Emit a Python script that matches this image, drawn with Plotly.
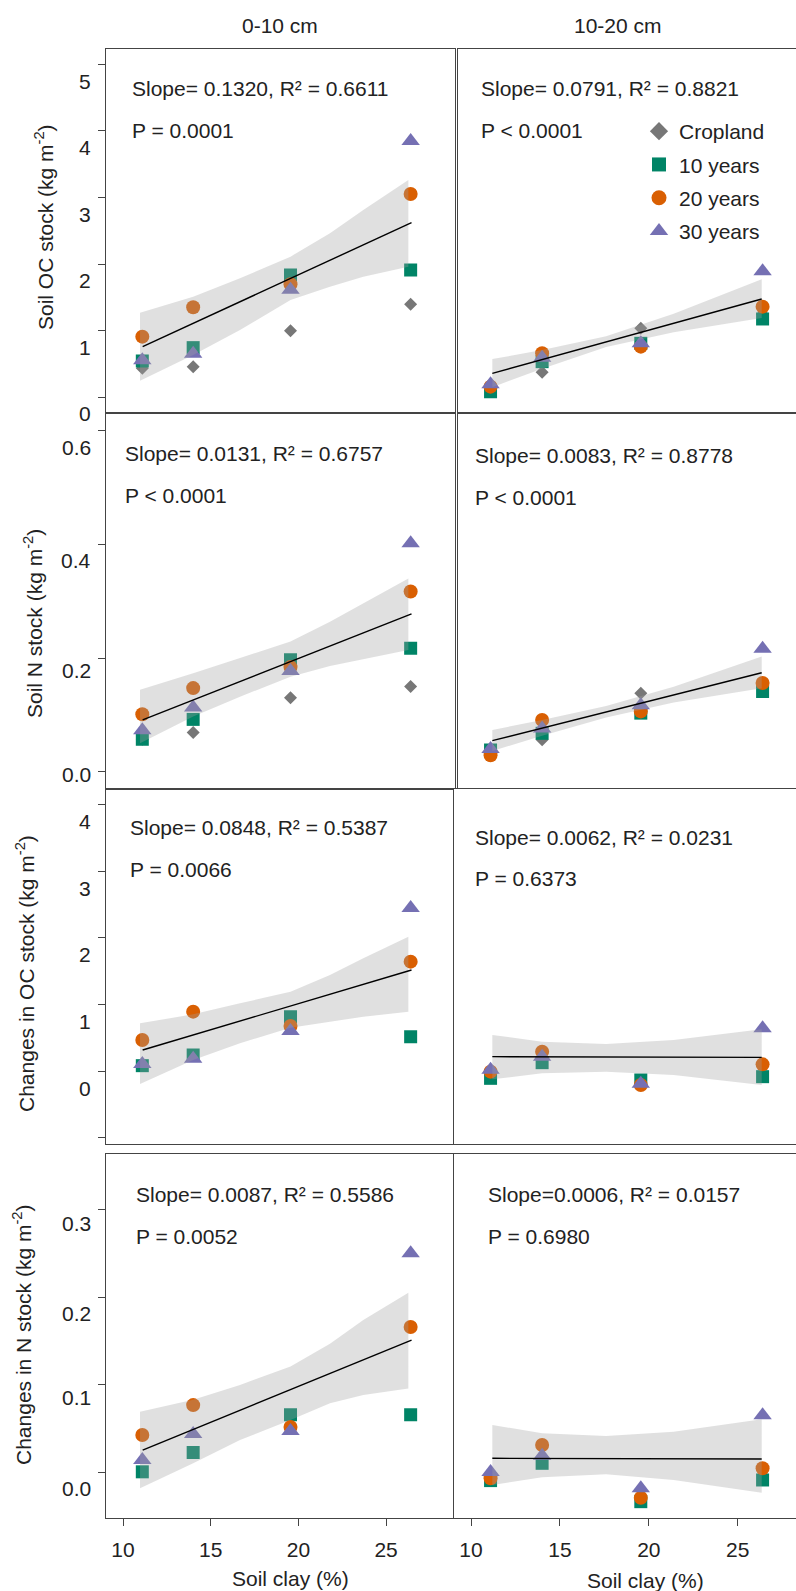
import plotly.graph_objects as go

# ---------------- data ----------------
clay = [11.1, 14.0, 19.55, 26.4]
series_names = ["Cropland", "10 years", "20 years", "30 years"]
series_colors = ["#777777", "#008466", "#d95f02", "#7570b3"]
series_symbols = ["diamond", "square", "circle", "triangle-up"]

# Row 1 : Soil OC stock (kg m-2)
oc_0_10_cropland = [0.44, 0.465, 1.005, 1.40]
oc_0_10_10y = [0.55, 0.75, 1.84, 1.915]
oc_0_10_20y = [0.915, 1.355, 1.70, 3.055]
oc_0_10_30y = [0.56, 0.66, 1.62, 3.85]
oc_10_20_cropland = [0.12, 0.38, 1.04, 1.25]
oc_10_20_10y = [0.09, 0.54, 0.815, 1.18]
oc_10_20_20y = [0.165, 0.665, 0.765, 1.365]
oc_10_20_30y = [0.20, 0.60, 0.815, 1.895]

# Row 2 : Soil N stock (kg m-2)
n_0_10_cropland = [0.057, 0.069, 0.130, 0.150]
n_0_10_10y = [0.057, 0.092, 0.197, 0.217]
n_0_10_20y = [0.101, 0.147, 0.184, 0.317]
n_0_10_30y = [0.073, 0.113, 0.177, 0.402]
n_10_20_cropland = [0.035, 0.056, 0.138, 0.148]
n_10_20_10y = [0.038, 0.0675, 0.103, 0.141]
n_10_20_20y = [0.029, 0.091, 0.106, 0.156]
n_10_20_30y = [0.040, 0.076, 0.117, 0.2165]

# Row 3 : Changes in OC stock (kg m-2)
doc_0_10_10y = [0.08, 0.24, 0.815, 0.515]
doc_0_10_20y = [0.465, 0.89, 0.675, 1.64]
doc_0_10_30y = [0.105, 0.185, 0.60, 2.445]
doc_10_20_10y = [-0.11, 0.125, -0.135, -0.085]
doc_10_20_20y = [-0.01, 0.29, -0.21, 0.10]
doc_10_20_30y = [0.02, 0.215, -0.19, 0.64]

# Row 4 : Changes in N stock (kg m-2)
dn_0_10_10y = [0.001, 0.023, 0.066, 0.066]
dn_0_10_20y = [0.043, 0.077, 0.052, 0.166]
dn_0_10_30y = [0.0145, 0.044, 0.0475, 0.250]
dn_10_20_10y = [-0.009, 0.0107, -0.033, -0.0083]
dn_10_20_20y = [-0.0064, 0.0315, -0.0285, 0.005]
dn_10_20_30y = [0.0008, 0.0194, -0.0178, 0.0653]

# fitted regression lines (end points) and confidence bands
fit_x_left = [11.12, 26.45]
fit_x_right = [11.2, 26.35]
band_x_left = [10.97, 14.0, 16.67, 19.55, 21.8, 23.7, 26.27]
band_x_right = [11.2, 14.0, 17.6, 21.4, 26.35]

fit_oc_0_10 = [0.765, 2.625]
band_oc_0_10_lo = [0.255, 0.64, 1.015, 1.465, 1.665, 1.815, 1.965]
band_oc_0_10_hi = [1.275, 1.515, 1.79, 2.115, 2.465, 2.815, 3.265]
fit_oc_10_20 = [0.365, 1.48]
band_oc_10_20_lo = [0.158, 0.433, 0.76, 0.981, 1.195]
band_oc_10_20_hi = [0.578, 0.715, 0.92, 1.259, 1.775]

fit_n_0_10 = [0.091, 0.2775]
band_n_0_10_lo = [0.050, 0.097, 0.132, 0.167, 0.186, 0.198, 0.214]
band_n_0_10_hi = [0.144, 0.173, 0.200, 0.229, 0.264, 0.296, 0.340]
fit_n_10_20 = [0.0546, 0.174]
band_n_10_20_lo = [0.0364, 0.063, 0.0955, 0.1215, 0.1466]
band_n_10_20_hi = [0.0734, 0.091, 0.1155, 0.1495, 0.2026]

fit_doc_0_10 = [0.315, 1.515]
band_doc_0_10_lo = [-0.195, 0.165, 0.415, 0.65, 0.74, 0.815, 0.89]
band_doc_0_10_hi = [0.715, 0.85, 1.015, 1.19, 1.44, 1.69, 2.015]
fit_doc_10_20 = [0.215, 0.205]
band_doc_10_20_lo = [-0.125, -0.035, -0.01, -0.06, -0.21]
band_doc_10_20_hi = [0.54, 0.44, 0.405, 0.465, 0.625]

fit_dn_0_10 = [0.0258, 0.151]
band_dn_0_10_lo = [-0.0178, 0.0107, 0.0372, 0.060, 0.079, 0.0885, 0.096]
band_dn_0_10_hi = [0.0695, 0.083, 0.100, 0.121, 0.147, 0.174, 0.205]
fit_dn_10_20 = [0.0164, 0.0156]
band_dn_10_20_lo = [-0.014, -0.0052, -0.0018, -0.0083, -0.0228]
band_dn_10_20_hi = [0.0543, 0.0449, 0.0418, 0.0467, 0.0608]

stats_text = [
    ["Slope= 0.1320, R\u00b2 = 0.6611", "P = 0.0001"],
    ["Slope= 0.0791, R\u00b2 = 0.8821", "P < 0.0001"],
    ["Slope= 0.0131, R\u00b2 = 0.6757", "P < 0.0001"],
    ["Slope= 0.0083, R\u00b2 = 0.8778", "P < 0.0001"],
    ["Slope= 0.0848, R\u00b2 = 0.5387", "P = 0.0066"],
    ["Slope= 0.0062, R\u00b2 = 0.0231", "P = 0.6373"],
    ["Slope= 0.0087, R\u00b2 = 0.5586", "P = 0.0052"],
    ["Slope=0.0006, R\u00b2 = 0.0157", "P = 0.6980"],
]
column_titles = ["0-10 cm", "10-20 cm"]
y_titles = ["Soil OC stock (kg m<sup>-2</sup>)", "Soil N stock (kg m<sup>-2</sup>)",
            "Changes in OC stock (kg m<sup>-2</sup>)", "Changes in N stock (kg m<sup>-2</sup>)"]
x_title = "Soil clay (%)"
x_tickvals = [10, 15, 20, 25]
y_tickvals = [[0, 1, 2, 3, 4, 5], [0, 0.2, 0.4, 0.6], [-1, 0, 1, 2, 3, 4], [0, 0.1, 0.2, 0.3]]
y_ticktext = [["0", "1", "2", "3", "4", "5"], ["0.0", "0.2", "0.4", "0.6"],
              ["", "0", "1", "2", "3", "4"], ["0.0", "0.1", "0.2", "0.3"]]

panels = [
    dict(series=[oc_0_10_cropland, oc_0_10_10y, oc_0_10_20y, oc_0_10_30y], fit=fit_oc_0_10,
         lo=band_oc_0_10_lo, hi=band_oc_0_10_hi),
    dict(series=[oc_10_20_cropland, oc_10_20_10y, oc_10_20_20y, oc_10_20_30y], fit=fit_oc_10_20,
         lo=band_oc_10_20_lo, hi=band_oc_10_20_hi),
    dict(series=[n_0_10_cropland, n_0_10_10y, n_0_10_20y, n_0_10_30y], fit=fit_n_0_10,
         lo=band_n_0_10_lo, hi=band_n_0_10_hi),
    dict(series=[n_10_20_cropland, n_10_20_10y, n_10_20_20y, n_10_20_30y], fit=fit_n_10_20,
         lo=band_n_10_20_lo, hi=band_n_10_20_hi),
    dict(series=[None, doc_0_10_10y, doc_0_10_20y, doc_0_10_30y], fit=fit_doc_0_10,
         lo=band_doc_0_10_lo, hi=band_doc_0_10_hi),
    dict(series=[None, doc_10_20_10y, doc_10_20_20y, doc_10_20_30y], fit=fit_doc_10_20,
         lo=band_doc_10_20_lo, hi=band_doc_10_20_hi),
    dict(series=[None, dn_0_10_10y, dn_0_10_20y, dn_0_10_30y], fit=fit_dn_0_10,
         lo=band_dn_0_10_lo, hi=band_dn_0_10_hi),
    dict(series=[None, dn_10_20_10y, dn_10_20_20y, dn_10_20_30y], fit=fit_dn_10_20,
         lo=band_dn_10_20_lo, hi=band_dn_10_20_hi),
]

# ---------------- layout geometry ----------------
W, H = 796, 1591
FONT = "Liberation Sans, Arial, sans-serif"
TXT = "#222222"
AX = "#444444"
marker_sizes = [10, 13, 14, 16]
legend_sizes = [14, 14, 15, 16]


def fx(p):
    return p / W


def fy(p):
    return 1 - p / H


row_px = [(49, 413), (413, 789), (789, 1144), (1154, 1518)]
y_ranges = [[-0.23, 5.229], [-0.0305, 0.6311], [-1.095, 4.23], [-0.0516, 0.363]]
# vertical offset (px, downward) of each y tick label from its tick, as in the reference
y_label_offset = [[16, 17, 16, 17, 17, 17], [3, 12, 16, 17], [0, 17, 17, 17, 17, 17], [16, 13, 16, 14]]
left_px, left_range = (106, 454.5), [9.03, 28.90]
right_px_top, right_range_top = (457.5, 796), [9.241, 28.279]
right_px_bot, right_range_bot = (454, 796), [9.044, 28.279]

fig = go.Figure()
layout = dict(template="none", width=W, height=H, autosize=False,
              margin=dict(l=0, r=0, t=0, b=0, pad=0),
              paper_bgcolor="white", plot_bgcolor="white",
              font=dict(family=FONT, size=21, color=TXT), showlegend=True)
ann = []

for k, p in enumerate(panels):
    r, c = divmod(k, 2)
    ax_id = "" if k == 0 else str(k + 1)
    xa, ya = "x" + ax_id, "y" + ax_id
    fit_x = fit_x_left if c == 0 else fit_x_right
    band_x = band_x_left if c == 0 else band_x_right
    for s, vals in enumerate(p["series"]):
        if vals is None:
            continue
        fig.add_trace(go.Scatter(x=clay, y=vals, mode="markers", xaxis=xa, yaxis=ya,
                                 showlegend=False, hoverinfo="skip",
                                 marker=dict(symbol=series_symbols[s], size=marker_sizes[s],
                                             color=series_colors[s], line=dict(width=0))))
    fig.add_trace(go.Scatter(x=band_x, y=p["lo"], mode="lines", line=dict(width=0),
                             xaxis=xa, yaxis=ya, showlegend=False, hoverinfo="skip"))
    fig.add_trace(go.Scatter(x=band_x, y=p["hi"], mode="lines", line=dict(width=0),
                             fill="tonexty", fillcolor="rgba(160,160,160,0.33)",
                             xaxis=xa, yaxis=ya, showlegend=False, hoverinfo="skip"))
    fig.add_trace(go.Scatter(x=fit_x, y=p["fit"], mode="lines", line=dict(color="black", width=1.4),
                             xaxis=xa, yaxis=ya, showlegend=False, hoverinfo="skip"))

    if c == 0:
        xpx, xr = left_px, left_range
    elif r < 2:
        xpx, xr = right_px_top, right_range_top
    else:
        xpx, xr = right_px_bot, right_range_bot
    bottom = (r == 3)
    layout["xaxis" + ax_id] = dict(
        domain=[fx(xpx[0]), min(1.0, fx(xpx[1]))], range=xr, anchor=ya, automargin=False,
        showline=True, linecolor=AX, linewidth=1, mirror=True,
        showgrid=False, zeroline=False,
        ticks="outside" if bottom else "", ticklen=7, tickcolor=AX, tickwidth=1,
        tickvals=x_tickvals, showticklabels=bottom,
        tickfont=dict(family=FONT, size=21, color=TXT), ticklabelstandoff=6)
    layout["yaxis" + ax_id] = dict(
        domain=[fy(row_px[r][1]), fy(row_px[r][0])], range=y_ranges[r], anchor=xa, automargin=False,
        showline=True, linecolor=AX, linewidth=1, mirror=(c == 0),
        showgrid=False, zeroline=False,
        ticks="outside" if c == 0 else "", ticklen=7, tickcolor=AX, tickwidth=1,
        tickvals=y_tickvals[r], showticklabels=False)
    if c == 0:
        for tv, tt, off in zip(y_tickvals[r], y_ticktext[r], y_label_offset[r]):
            if tt == "":
                continue
            ann.append(dict(text=tt, x=fx(93), xref="paper", y=tv, yref=ya, yshift=-off,
                            xanchor="right", yanchor="middle", showarrow=False,
                            font=dict(family=FONT, size=21, color=TXT)))

# legend entries (no data; legend only)
for s in range(4):
    fig.add_trace(go.Scatter(x=[None], y=[None], mode="markers", name=series_names[s],
                             xaxis="x2", yaxis="y2", legendgroup=series_names[s],
                             marker=dict(symbol=series_symbols[s], size=legend_sizes[s],
                                         color=series_colors[s])))

layout["legend"] = dict(x=fx(639), y=fy(111), xanchor="left", yanchor="top",
                        bgcolor="rgba(0,0,0,0)", borderwidth=0, tracegroupgap=3,
                        itemsizing="trace", font=dict(family=FONT, size=21, color=TXT))

# ---------------- annotations ----------------
stat_pos = [  # (left x px, line1 y px, line2 y px)
    (130, 89, 131), (479, 89, 130),
    (123, 453, 496), (473, 455, 497),
    (128, 827, 869), (473, 837, 878),
    (134, 1194, 1236), (486, 1194, 1236),
]
for k, (x0, y1, y2) in enumerate(stat_pos):
    for line, yy in zip(stats_text[k], (y1, y2)):
        ann.append(dict(text=line, x=fx(x0), y=fy(yy), xref="paper", yref="paper",
                        xanchor="left", yanchor="middle", showarrow=False,
                        font=dict(family=FONT, size=21, color=TXT)))
for t, (xx, yy) in zip(column_titles, [(280, 26), (618, 25)]):
    ann.append(dict(text=t, x=fx(xx), y=fy(yy), xref="paper", yref="paper",
                    xanchor="center", yanchor="middle", showarrow=False,
                    font=dict(family=FONT, size=21, color=TXT)))
for t, (xx, yy) in zip(y_titles, [(44, 227), (33, 624), (25, 974), (22, 1335)]):
    ann.append(dict(text=t, x=fx(xx), y=fy(yy), xref="paper", yref="paper", textangle=-90,
                    xanchor="center", yanchor="middle", showarrow=False,
                    font=dict(family=FONT, size=21, color=TXT)))
for xx, yy in [(290, 1578), (645, 1580)]:
    ann.append(dict(text=x_title, x=fx(xx), y=fy(yy), xref="paper", yref="paper",
                    xanchor="center", yanchor="middle", showarrow=False,
                    font=dict(family=FONT, size=21, color=TXT)))
layout["annotations"] = ann

fig.update_layout(**layout)
fig.write_html("out.html")
